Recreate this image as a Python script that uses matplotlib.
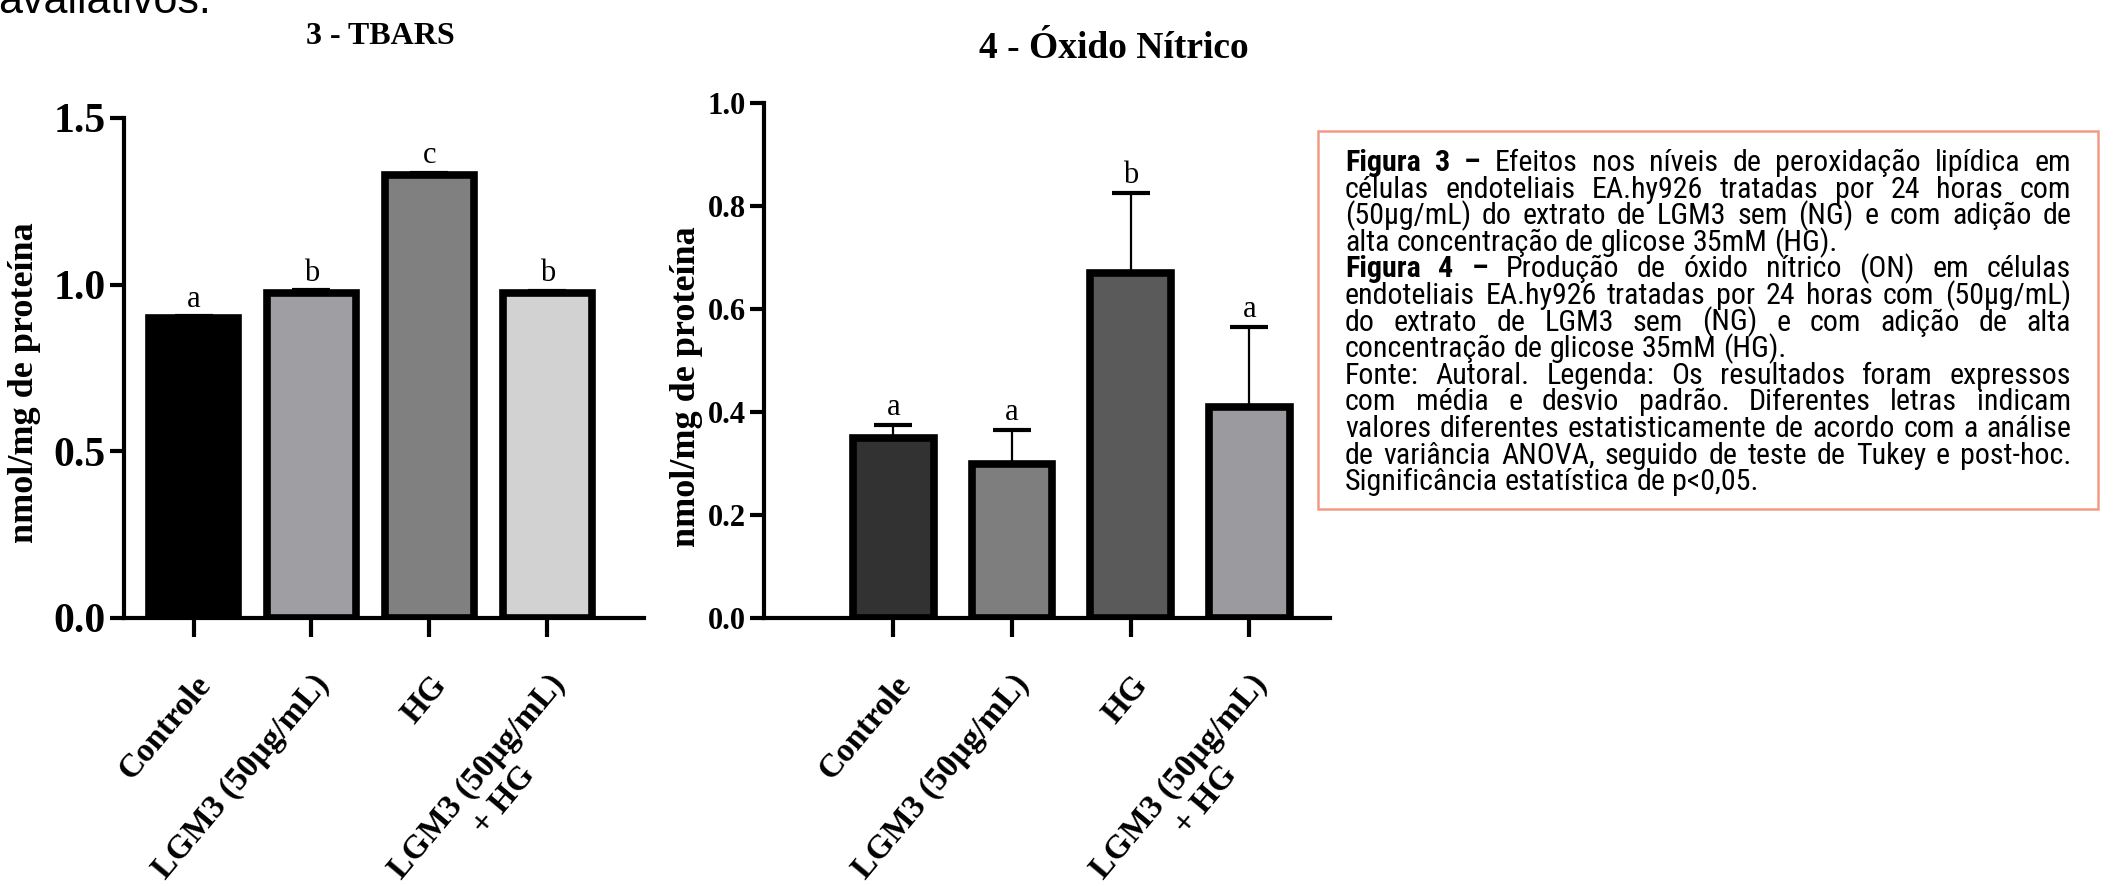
import matplotlib
matplotlib.use("Agg")
import matplotlib.pyplot as plt
from matplotlib import font_manager
from matplotlib.patches import Rectangle

categories = ["Controle", "LGM3 (50µg/mL)", "HG", "LGM3 (50µg/mL)\n+ HG"]

# Figura 3 - TBARS
tbars_mean = [0.90, 0.975, 1.33, 0.975]
tbars_sd = [0.005, 0.008, 0.006, 0.006]
tbars_letters = ["a", "b", "c", "b"]
tbars_colors = ["#000000", "#9e9ea3", "#808080", "#d2d2d2"]
tbars_yticks = [0.0, 0.5, 1.0, 1.5]

# Figura 4 - Oxido nitrico
no_mean = [0.35, 0.30, 0.67, 0.41]
no_sd = [0.025, 0.065, 0.155, 0.155]
no_letters = ["a", "a", "b", "a"]
no_colors = ["#323232", "#7e7e7e", "#5a5a5a", "#9b9b9f"]
no_yticks = [0.0, 0.2, 0.4, 0.6, 0.8, 1.0]

caption_lines = [
    "Figura 3 – Efeitos nos níveis de peroxidação lipídica em",
    "células endoteliais EA.hy926 tratadas por 24 horas com",
    "(50µg/mL) do extrato de LGM3 sem (NG) e com  adição de",
    "alta concentração de glicose 35mM (HG).",
    "Figura 4 – Produção de óxido nítrico (ON) em células",
    "endoteliais EA.hy926 tratadas por 24 horas com (50µg/mL)",
    "do extrato de LGM3 sem (NG) e com adição de alta",
    "concentração de glicose 35mM (HG).",
    "Fonte: Autoral. Legenda: Os resultados foram expressos",
    "com média e desvio padrão. Diferentes letras indicam",
    "valores diferentes estatisticamente de acordo com a análise",
    "de variância ANOVA, seguido de teste de Tukey e post-hoc.",
    "Significância estatística de p<0,05.",
]
caption_bold_words = [3, 0, 0, 0, 3, 0, 0, 0, 0, 0, 0, 0, 0]
caption_justify = [True, True, True, False, True, True, True, False,
                   True, True, True, True, False]

serif = "Liberation Serif"
# caption is set in a narrow sans in the original; use one if installed
names = set(font_manager.get_font_names())
sans = "Liberation Sans"
for cand in ["Liberation Sans Narrow", "Roboto Condensed", "Open Sans Condensed", "Arial Narrow"]:
    if cand in names:
        sans = cand
        break

W, H = 2113, 886
fig = plt.figure(figsize=(W / 100, H / 100), dpi=100)


def frac(x, y):
    # pixel position (from top left) to figure fraction
    return x / W, 1 - y / H


def panel(left_px, right_px, top_px, bottom_px, xlim, bar_w, means, sds, letters,
          colors, yticks, tick_fs, label_x, label_y):
    x0, y0 = frac(left_px, bottom_px)
    ax = fig.add_axes([x0, y0, (right_px - left_px) / W, (bottom_px - top_px) / H])
    x = list(range(len(categories)))
    ax.bar(x, means, width=bar_w, color=colors, edgecolor="black", linewidth=5.5, zorder=2)
    ax.errorbar(x, means, yerr=[[0] * len(sds), sds], fmt="none", ecolor="black",
                elinewidth=1.6, capsize=14, capthick=3, zorder=3)
    for xi, m, s, l in zip(x, means, sds, letters):
        ax.annotate(l, (xi, m + s), xytext=(0, 2), textcoords="offset points",
                    ha="center", va="bottom", fontsize=22, family=serif)
    ax.set_xlim(*xlim)
    ax.set_ylim(0, yticks[-1])
    ax.set_yticks(yticks)
    ax.set_yticklabels([f"{t:.1f}" for t in yticks], fontsize=tick_fs,
                       fontweight="bold", family=serif)
    ax.set_xticks(x)
    ax.set_xticklabels(categories, rotation=50, ha="right", va="top",
                       rotation_mode="anchor", fontsize=24, fontweight="bold", family=serif)
    for lab in ax.get_xticklabels():
        lab.set_multialignment("center")
    for side in ["top", "right"]:
        ax.spines[side].set_visible(False)
    for side in ["left", "bottom"]:
        ax.spines[side].set_linewidth(3)
    ax.tick_params(axis="y", length=10, width=3, pad=3)
    ax.tick_params(axis="x", length=14, width=3, pad=23)
    ax.set_ylabel("nmol/mg de proteína", fontsize=26, fontweight="bold", family=serif)
    ax.yaxis.set_label_coords(label_x, label_y)
    return ax


ax1 = panel(124, 644, 118, 618, (-0.59, 3.82), 0.76, tbars_mean, tbars_sd,
            tbars_letters, tbars_colors, tbars_yticks, 30, -0.16, 0.47)
ax2 = panel(764, 1330, 103, 618, (-1.09, 3.68), 0.68, no_mean, no_sd,
            no_letters, no_colors, no_yticks, 22, -0.108, 0.45)

fig.text(*frac(380, 36), "3 - TBARS", ha="center", va="center", fontsize=23,
         fontweight="bold", family=serif)
fig.text(*frac(1114, 48), "4 - Óxido Nítrico", ha="center", va="center", fontsize=27,
         fontweight="bold", family=serif)

# cut-off line of body text at the very top
fig.text(*frac(-2, 13), "avaliativos.", fontsize=31, family="Liberation Sans", va="baseline")

# caption box
bx0, by0 = frac(1318, 509)
fig.add_artist(Rectangle((bx0, by0), (2098 - 1318) / W, (509 - 131) / H,
                         transform=fig.transFigure, fill=False,
                         edgecolor="#f29a86", linewidth=1.8))

fig.canvas.draw()
rend = fig.canvas.get_renderer()


def width_of(s, fs, weight="normal"):
    t = fig.text(0, 0, s, fontsize=fs, family=sans, weight=weight)
    w = t.get_window_extent(rend).width
    t.remove()
    return w


text_left, text_right = 1345, 2071
# largest size (up to 22pt) at which every line still fits the box width
widest = max(width_of(" ".join(l.split()), 17, "bold" if b else "normal")
             for l, b in zip(caption_lines, caption_bold_words))
cap_fs = min(22, 17 * (text_right - text_left) / widest * 0.985)

space = width_of("a a", cap_fs) - width_of("aa", cap_fs)
base_y, line_h = 171, 26.6
for i, line in enumerate(caption_lines):
    words = line.split()
    weights = ["bold" if j < caption_bold_words[i] else "normal" for j in range(len(words))]
    widths = [width_of(w, cap_fs, wt) for w, wt in zip(words, weights)]
    if caption_justify[i] and len(words) > 1:
        gap = (text_right - text_left - sum(widths)) / (len(words) - 1)
    else:
        gap = space
    xpos = text_left
    for w, wt, ww in zip(words, weights, widths):
        fig.text(*frac(xpos, base_y + i * line_h), w, fontsize=cap_fs, family=sans,
                 weight=wt, va="baseline", ha="left")
        xpos += ww + gap

fig.savefig("out.png", dpi=100)
